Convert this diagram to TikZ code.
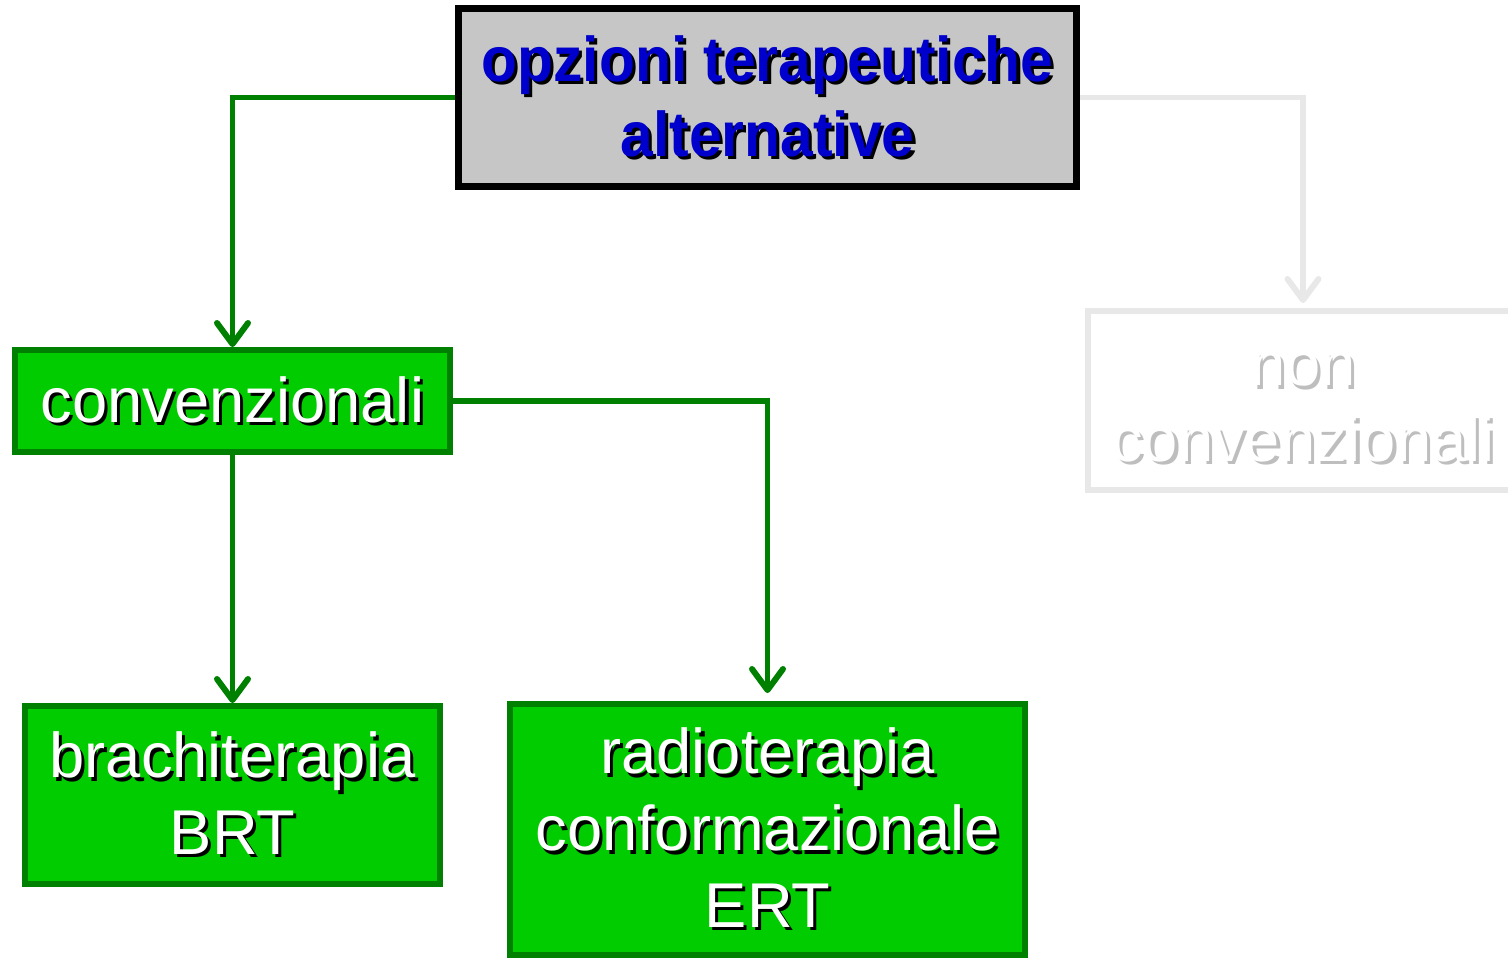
\documentclass[tikz,border=0pt]{standalone}
\usepackage{fontspec}
\setmainfont{Liberation Sans}
\newfontfamily\narrowfont[FakeStretch=0.93]{Liberation Sans}
\usetikzlibrary{arrows.meta}
\definecolor{boxgreen}{RGB}{0,204,0}
\definecolor{darkgreen}{RGB}{0,128,0}
\definecolor{titleblue}{RGB}{0,0,204}
\definecolor{boxgray}{RGB}{198,198,198}
\definecolor{fadegray}{RGB}{232,232,232}
\definecolor{fadeshadow}{RGB}{190,190,190}
\def\shoff{1.8pt}
% text with a drop shadow behind it
\newcommand{\shtxt}[2]{\rlap{\kern\shoff\raisebox{-\shoff}{\textcolor{#1}{#2}}}#2}
\tikzstyle{title}=[draw=black, line width=4pt, fill=boxgray, text=titleblue,
    font=\narrowfont\bfseries\fontsize{36}{42.7}\selectfont, align=center,
    inner sep=0pt, minimum width=12.36cm, minimum height=3.56cm]
\tikzstyle{gbox}=[draw=darkgreen, line width=3.4pt, fill=boxgreen, text=white,
    font=\fontsize{36}{43.8}\selectfont, align=center, inner sep=0pt]
\tikzstyle{fbox}=[draw=fadegray, line width=3.4pt, text=white,
    font=\fontsize{36}{42.7}\selectfont, align=center, inner sep=0pt,
    minimum width=8.6cm, minimum height=3.58cm]
\tikzstyle{garrow}=[draw=darkgreen, line width=3.4pt,
    -{Straight Barb[length=4.2mm,width=6.2mm,round]}]
\tikzstyle{farrow}=[draw=fadegray, line width=3.4pt,
    -{Straight Barb[length=4.2mm,width=6.2mm,round]}]

\begin{document}
\begin{tikzpicture}
    \useasboundingbox (0,0) rectangle (30.16,-19.2);

    \path (15.35,-1.95) node (opz) [title]
        {\shtxt{black}{opzioni terapeutiche}\\ \shtxt{black}{alternative}};
    \path (4.65,-8.02) node (conv) [gbox, minimum width=8.7cm, minimum height=2.04cm]
        {\shtxt{black}{convenzionali}};
    \path (4.65,-15.9) node (brt) [gbox, minimum width=8.3cm, minimum height=3.56cm]
        {\shtxt{black}{brachiterapia}\\ \shtxt{black}{BRT}};
    \path (15.35,-16.59) node (ert) [gbox, minimum width=10.3cm, minimum height=5.02cm]
        {\shtxt{black}{radioterapia}\\ \shtxt{black}{conformazionale}\\ \shtxt{black}{ERT}};
    \path (26.06,-8.01) node (nonconv) [fbox]
        {\raisebox{-0.16cm}[\height][\depth]{\begin{tabular}{@{}c@{}}
        \shtxt{fadeshadow}{non}\\ \shtxt{fadeshadow}{convenzionali}\end{tabular}}};

    \draw [garrow] (opz.west) -| (conv.north);
    \draw [garrow] (conv.south) -- (brt.north);
    \draw [garrow, shorten >=0.16cm] (conv.east) -| (ert.north);
    \draw [farrow, shorten >=0.1cm] (opz.east) -| (nonconv.north);
\end{tikzpicture}
\end{document}
